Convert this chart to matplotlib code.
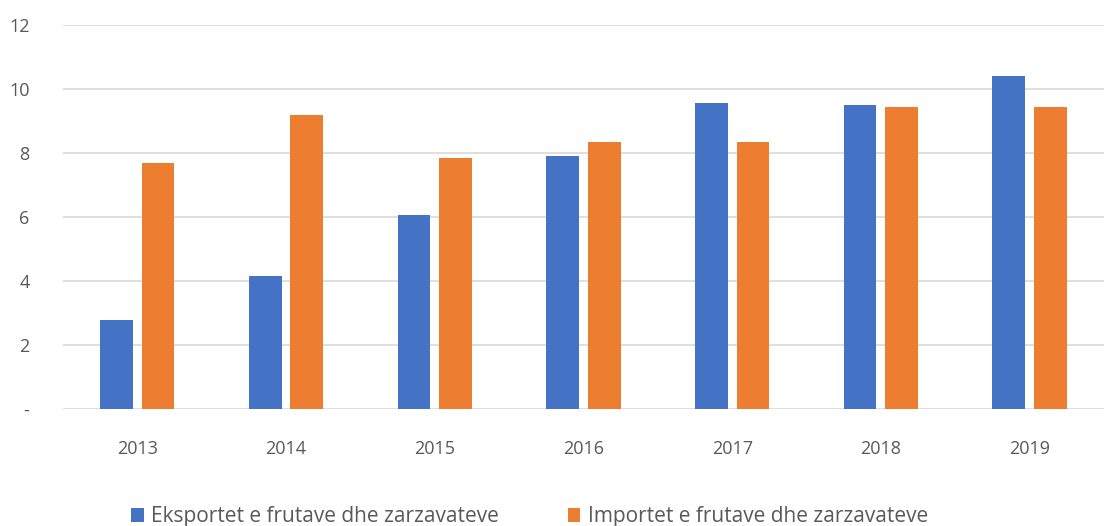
import matplotlib
matplotlib.use("Agg")
from matplotlib import pyplot as plt
import numpy as np

years = ["2013", "2014", "2015", "2016", "2017", "2018", "2019"]
eksportet = [2.78, 4.15, 6.05, 7.92, 9.57, 9.5, 10.4]
importet = [7.7, 9.2, 7.85, 8.35, 8.33, 9.43, 9.43]
y_ticks = [0, 2, 4, 6, 8, 10, 12]
y_labels = ["-", "2", "4", "6", "8", "10", "12"]

plt.rcParams["font.family"] = ["Open Sans", "DejaVu Sans"]

fig = plt.figure(figsize=(11.04, 5.26), dpi=100)
ax = fig.add_axes([0.057, 0.2224, 0.943, 0.7301])

x = np.arange(len(years))
w = 0.22
gap = 0.06
ax.bar(x - (w + gap) / 2, eksportet, w, color="#4472C4", zorder=3,
       label="Eksportet e frutave dhe zarzavateve")
ax.bar(x + (w + gap) / 2, importet, w, color="#ED7D31", zorder=3,
       label="Importet e frutave dhe zarzavateve")

ax.set_xlim(-0.5, len(years) - 0.5)
ax.set_ylim(0, 12)
ax.set_yticks(y_ticks)
ax.set_yticklabels(y_labels)
ax.set_xticks(x)
ax.set_xticklabels(years)
ax.yaxis.grid(True, color="#D9D9D9", linewidth=1.2, zorder=0)
for s in ax.spines.values():
    s.set_visible(False)
ax.tick_params(length=0, colors="#595959", labelsize=13)
ax.tick_params(axis="y", pad=24)
ax.tick_params(axis="x", pad=22)

fig.legend(loc="lower left", bbox_to_anchor=(0.102, -0.038), ncol=2,
           frameon=False, fontsize=15, labelcolor="#595959",
           handlelength=0.6, handleheight=0.6, handletextpad=0.35,
           columnspacing=3.3)

fig.savefig("out.png", dpi=100)
